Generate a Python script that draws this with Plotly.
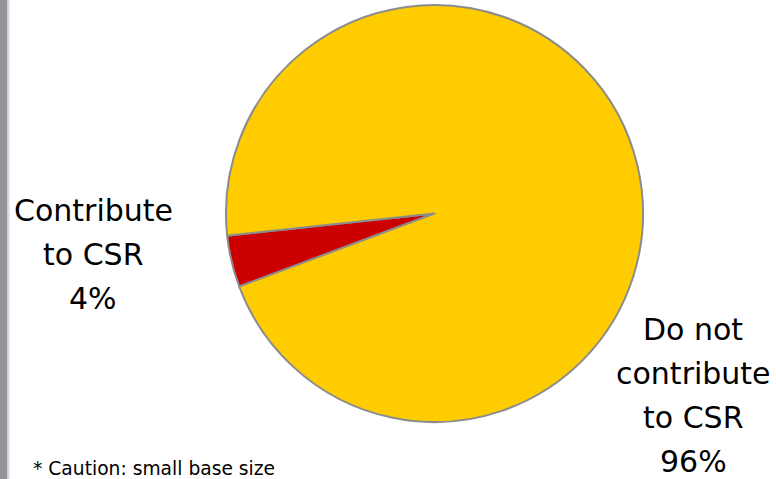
import plotly.graph_objects as go

# Share of respondents by CSR contribution
labels = ["Contribute to CSR", "Do not contribute to CSR"]
values = [4, 96]
colors = ["#CC0000", "#FFCC00"]
label_lines = [["Contribute", "to CSR", "4%"], ["Do not", "contribute", "to CSR", "96%"]]
note = "* Caution: small base size"

W, H = 776, 479

def px(x):
    return x / W

def py(y):
    return 1 - y / H

fig = go.Figure(go.Pie(
    labels=labels,
    values=values,
    sort=False,
    direction="clockwise",
    rotation=249.5,
    marker=dict(colors=colors, line=dict(color="#8C8C8C", width=2)),
    textinfo="none",
    hoverinfo="label+percent",
    showlegend=False,
    domain=dict(x=[px(226), px(643)], y=[py(422), py(5)]),
))

# Slice labels, one line per annotation for wider line spacing
font = dict(family="DejaVu Sans", size=30, color="#000000")
label_anchor = [(93, 210, 44), (693, 329, 44.2)]
annotations = []
for lines, (cx, cy, step) in zip(label_lines, label_anchor):
    for i, line in enumerate(lines):
        annotations.append(dict(
            text=line, x=px(cx), y=py(cy + i * step), xref="paper", yref="paper",
            xanchor="center", yanchor="middle", showarrow=False, font=font,
        ))

annotations.append(dict(
    text=note, x=px(31), y=py(468), xref="paper", yref="paper",
    xanchor="left", yanchor="middle", showarrow=False,
    font=dict(family="DejaVu Sans", size=18.7, color="#000000"),
))

fig.update_layout(
    width=W, height=H,
    margin=dict(l=0, r=0, t=0, b=0),
    paper_bgcolor="#FFFFFF",
    plot_bgcolor="#FFFFFF",
    annotations=annotations,
    shapes=[
        dict(type="rect", xref="paper", yref="paper", x0=0, x1=px(7.5), y0=0, y1=1,
             fillcolor="#939598", line=dict(width=0), layer="below"),
        dict(type="rect", xref="paper", yref="paper", x0=px(7.5), x1=px(9.5), y0=0, y1=1,
             fillcolor="#D9D9DB", line=dict(width=0), layer="below"),
    ],
)

fig.write_html("out.html")
